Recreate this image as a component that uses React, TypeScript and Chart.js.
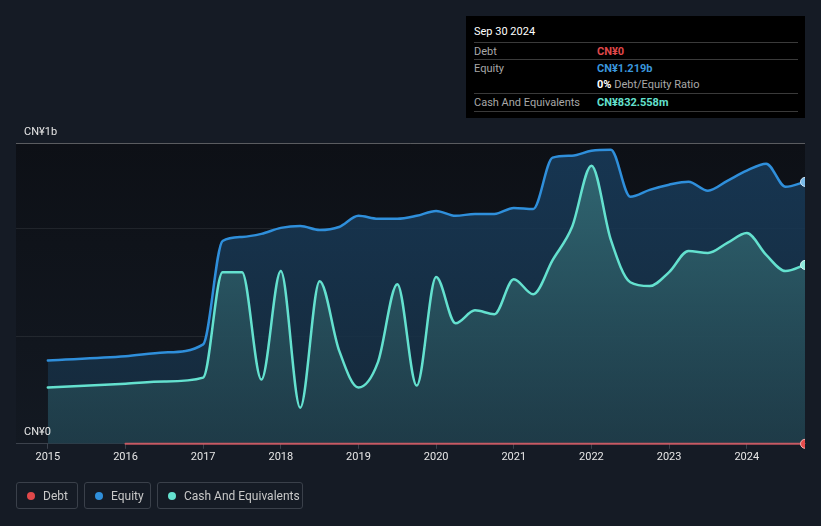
import { useEffect, useRef } from 'react';
import { Chart, ChartConfiguration, registerables } from 'chart.js';

Chart.register(...registerables);

// quarter-ends as decimal years (2015 → 2024 Q3)
const periods = [
  2015, 2016, 2016.5, 2017, 2017.25, 2017.5, 2017.75, 2018, 2018.25, 2018.5, 2018.75,
  2019, 2019.25, 2019.5, 2019.75, 2020, 2020.25, 2020.5, 2020.75, 2021, 2021.25,
  2021.5, 2021.75, 2022, 2022.25, 2022.5, 2022.75, 2023, 2023.25, 2023.5, 2023.75,
  2024, 2024.25, 2024.5, 2024.75,
];

// values in CN¥ billions
const equity = [
  0.388, 0.407, 0.425, 0.463, 0.944, 0.963, 0.977, 1.005, 1.014, 0.995, 1.009,
  1.061, 1.047, 1.047, 1.061, 1.084, 1.061, 1.07, 1.07, 1.098, 1.093,
  1.332, 1.341, 1.364, 1.369, 1.15, 1.182, 1.206, 1.22, 1.178, 1.224,
  1.271, 1.304, 1.196, 1.219,
];

const cash = [
  0.262, 0.28, 0.29, 0.308, 0.799, 0.799, 0.299, 0.804, 0.168, 0.757, 0.435,
  0.262, 0.379, 0.743, 0.271, 0.776, 0.561, 0.621, 0.603, 0.766, 0.696,
  0.855, 1.009, 1.294, 0.949, 0.752, 0.734, 0.799, 0.897, 0.888, 0.935,
  0.981, 0.879, 0.804, 0.8326,
];

const debt = [
  null, 0, 0, 0, 0, 0, 0, 0, 0, 0, 0,
  0, 0, 0, 0, 0, 0, 0, 0, 0, 0,
  0, 0, 0, 0, 0, 0, 0, 0, 0, 0,
  0, 0, 0, 0,
];

const yearTicks = [2015, 2016, 2017, 2018, 2019, 2020, 2021, 2022, 2023, 2024];
const yTicks = [0, 0.5, 1, 1.4];

const FONT = "Roboto, 'Open Sans', sans-serif";

const toXY = (vals: (number | null)[]) => vals.map((v, i) => ({ x: periods[i], y: v }));

const lastDot = (ctx: any) => (ctx.dataIndex === periods.length - 1 ? 4.5 : 0);

function vGradient(ctx: any, top: string, bottom: string) {
  const area = ctx.chart.chartArea;
  if (!area) return top;
  const g = ctx.chart.ctx.createLinearGradient(0, area.top, 0, area.bottom);
  g.addColorStop(0, top);
  g.addColorStop(1, bottom);
  return g;
}

const plotBackground = {
  id: 'plotBackground',
  beforeDraw(chart: Chart) {
    const { ctx, chartArea } = chart;
    const g = ctx.createLinearGradient(0, chartArea.top, 0, chartArea.bottom);
    g.addColorStop(0, '#0d1016');
    g.addColorStop(1, '#131922');
    ctx.save();
    ctx.fillStyle = g;
    ctx.fillRect(chartArea.left, chartArea.top, chartArea.right - chartArea.left, chartArea.bottom - chartArea.top);
    ctx.restore();
  },
  afterDraw(chart: Chart) {
    const { ctx, chartArea } = chart;
    ctx.save();
    ctx.fillStyle = '#e6e6e6';
    ctx.font = `11px ${FONT}`;
    ctx.textBaseline = 'middle';
    ctx.fillText('CN¥1b', chartArea.left + 8, chartArea.top - 11);
    ctx.fillText('CN¥0', chartArea.left + 8, chartArea.bottom - 12);
    ctx.restore();
  },
};

function DebtEquityChart() {
  const chartRef = useRef<HTMLCanvasElement>(null);
  const chartInstanceRef = useRef<Chart | null>(null);

  useEffect(() => {
    if (!chartRef.current) return;
    const ctx = chartRef.current.getContext('2d');
    if (!ctx) return;
    if (chartInstanceRef.current) chartInstanceRef.current.destroy();

    const config: ChartConfiguration<'line'> = {
      type: 'line',
      data: {
        datasets: [
          {
            label: 'Debt',
            data: toXY(debt) as any,
            borderColor: 'rgba(226, 96, 104, 0.85)',
            borderWidth: 2,
            pointRadius: lastDot,
            pointBackgroundColor: '#e64c4c',
            pointBorderColor: '#f3b0b0',
            pointBorderWidth: 1,
            fill: false,
            clip: { left: 0, right: 0, top: 0, bottom: 6 } as any,
          },
          {
            label: 'Cash And Equivalents',
            data: toXY(cash) as any,
            borderColor: '#64e1cf',
            borderWidth: 2.5,
            cubicInterpolationMode: 'monotone',
            pointRadius: lastDot,
            pointBackgroundColor: '#8ee9dc',
            pointBorderColor: '#d8f7f2',
            pointBorderWidth: 1,
            fill: 'origin',
            backgroundColor: (c: any) => vGradient(c, 'rgba(56, 118, 125, 0.8)', 'rgba(36, 70, 80, 0.6)'),
            clip: 0,
          },
          {
            label: 'Equity',
            data: toXY(equity) as any,
            borderColor: '#2f8fdb',
            borderWidth: 2.5,
            cubicInterpolationMode: 'monotone',
            pointRadius: lastDot,
            pointBackgroundColor: '#7bbbe9',
            pointBorderColor: '#d0e6f7',
            pointBorderWidth: 1,
            fill: 'origin',
            backgroundColor: (c: any) => vGradient(c, 'rgba(24, 60, 92, 0.85)', 'rgba(22, 44, 62, 0.85)'),
            clip: 0,
          },
        ],
      },
      options: {
        animation: false,
        responsive: true,
        maintainAspectRatio: false,
        layout: { padding: { left: 16, right: 16, top: 143, bottom: 60 } },
        plugins: {
          legend: { display: false },
          tooltip: { enabled: false },
        },
        elements: { line: { borderCapStyle: 'round', borderJoinStyle: 'round' } },
        scales: {
          x: {
            type: 'linear',
            min: 2014.59,
            max: 2024.75,
            afterBuildTicks: (scale) => {
              scale.ticks = yearTicks.map((v) => ({ value: v }));
            },
            ticks: {
              color: '#e6e6e6',
              font: { family: FONT, size: 11 },
              padding: 2,
              maxRotation: 0,
              autoSkip: false,
              callback: (v) => String(v),
            },
            grid: { drawOnChartArea: false, drawTicks: true, tickLength: 5, color: '#3c424c' },
            border: { display: true, color: '#3c424c' },
          },
          y: {
            min: 0,
            max: 1.4,
            afterBuildTicks: (scale) => {
              scale.ticks = yTicks.map((v) => ({ value: v }));
            },
            ticks: { display: false },
            grid: {
              drawTicks: false,
              color: (c: any) =>
                c.tick && c.tick.value === 1.4
                  ? 'rgba(255,255,255,0.32)'
                  : c.tick && c.tick.value === 0
                  ? 'rgba(255,255,255,0.2)'
                  : 'rgba(255,255,255,0.08)',
            },
            border: { display: false },
          },
        },
      },
      plugins: [plotBackground],
    };

    chartInstanceRef.current = new Chart(ctx, config);

    return () => {
      if (chartInstanceRef.current) {
        chartInstanceRef.current.destroy();
        chartInstanceRef.current = null;
      }
    };
  }, []);

  return <canvas ref={chartRef} />;
}

const rowStyle: React.CSSProperties = {
  display: 'flex',
  height: 16,
  alignItems: 'center',
  borderTop: '1px solid #3a3a3a',
};

const labelStyle: React.CSSProperties = { width: 123, color: '#a8a8a8' };

function InfoBox() {
  return (
    <div
      style={{
        position: 'absolute',
        left: 466,
        top: 16,
        width: 339,
        height: 102,
        background: '#000',
        boxSizing: 'border-box',
        padding: '6px 7px 0 8px',
        fontSize: 11,
        fontFamily: FONT,
      }}
    >
      <div style={{ color: '#fff', height: 20, lineHeight: '20px' }}>Sep 30 2024</div>
      <div style={rowStyle}>
        <span style={labelStyle}>Debt</span>
        <span style={{ color: '#e0484a', fontWeight: 700 }}>CN¥0</span>
      </div>
      <div style={rowStyle}>
        <span style={labelStyle}>Equity</span>
        <span style={{ color: '#3a96dc', fontWeight: 700 }}>CN¥1.219b</span>
      </div>
      <div style={{ ...rowStyle, height: 17, borderTop: 'none' }}>
        <span style={labelStyle}></span>
        <span style={{ color: '#a8a8a8' }}>
          <b style={{ color: '#fff' }}>0%</b> Debt/Equity Ratio
        </span>
      </div>
      <div style={{ ...rowStyle, height: 17, borderBottom: '1px solid #3a3a3a' }}>
        <span style={labelStyle}>Cash And Equivalents</span>
        <span style={{ color: '#64e1cf', fontWeight: 700 }}>CN¥832.558m</span>
      </div>
    </div>
  );
}

const legendItems = [
  { label: 'Debt', color: '#e0484a', width: 62 },
  { label: 'Equity', color: '#2f8fdb', width: 67 },
  { label: 'Cash And Equivalents', color: '#64e1cf', width: 146 },
];

function Legend() {
  return (
    <div style={{ position: 'absolute', left: 16, top: 482, display: 'flex', gap: 6 }}>
      {legendItems.map((item) => (
        <div
          key={item.label}
          style={{
            width: item.width,
            height: 27,
            boxSizing: 'border-box',
            border: '1px solid #3a404a',
            borderRadius: 3,
            display: 'flex',
            alignItems: 'center',
            paddingLeft: 10,
            gap: 8,
            color: '#c8c8c8',
            fontSize: 12,
            fontFamily: FONT,
          }}
        >
          <span style={{ width: 8, height: 8, borderRadius: '50%', background: item.color }} />
          {item.label}
        </div>
      ))}
    </div>
  );
}

export default function App() {
  useEffect(() => {
    document.body.style.margin = '0';
    document.body.style.background = '#151b25';
  }, []);

  return (
    <div style={{ position: 'relative', width: 821, height: 526, background: '#151b25', overflow: 'hidden' }}>
      <div style={{ position: 'absolute', left: 0, top: 0, width: 821, height: 526 }}>
        <DebtEquityChart />
      </div>
      <InfoBox />
      <Legend />
    </div>
  );
}
